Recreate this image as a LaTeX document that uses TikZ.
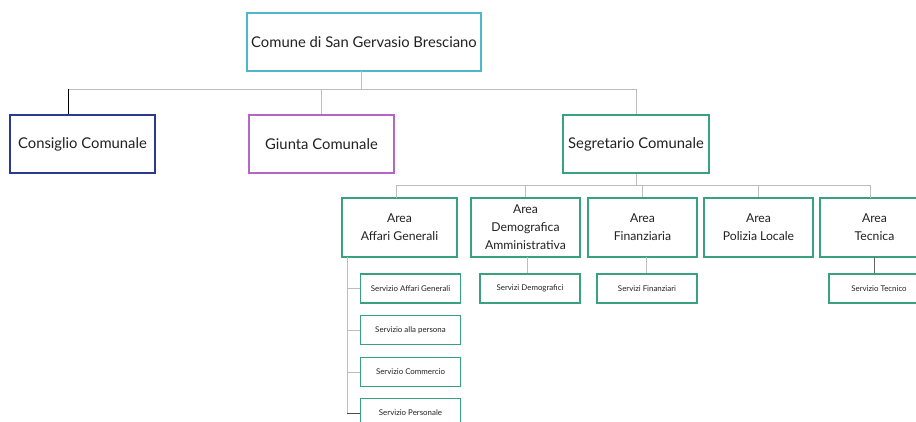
\documentclass[tikz,border=0pt]{standalone}
\usepackage{fontspec}
\setmainfont{Lato}
\definecolor{cTop}{HTML}{4DB8CC}
\definecolor{cBlue}{HTML}{2B3990}
\definecolor{cPurple}{HTML}{B565C6}
\definecolor{cGreen}{HTML}{3AA17E}
\definecolor{cLine}{HTML}{BDBDBD}
\definecolor{cText}{HTML}{222222}
\begin{document}
\begin{tikzpicture}[x=1pt,y=-1pt,
  box/.style={draw, line width=1.6pt, fill=white, inner sep=0pt, align=center, text=cText},
  big/.style={box, minimum height=58pt, font=\fontsize{14.8}{17}\selectfont},
  area/.style={box, draw=cGreen, minimum height=59pt, font=\fontsize{12.2}{18}\selectfont},
  serv/.style={box, draw=cGreen, minimum height=29pt, minimum width=100pt, font=\fontsize{7.9}{9}\selectfont},
  conn/.style={draw=cLine, line width=0.9pt}]
\clip (0,0) rectangle (916,421);
\fill[white] (0,0) rectangle (916,421);
% level 0 and 1
\node[big, draw=cTop, minimum width=234pt] (top) at (364,42) {Comune di San Gervasio Bresciano};
\node[big, draw=cBlue, minimum width=145pt] (cons) at (82.5,144) {Consiglio Comunale};
\node[big, draw=cPurple, minimum width=145pt] (giunta) at (321.5,144) {Giunta Comunale};
\node[big, draw=cGreen, minimum width=146pt] (seg) at (636,144) {Segretario Comunale};
% areas
\node[area, minimum width=115pt] (aff) at (399.5,227.5) {Area\\Affari Generali};
\node[area, minimum width=109pt] (dem) at (525.5,227.5) {Area\\Demografica\\Amministrativa};
\node[area, minimum width=109pt] (fin) at (642.5,227.5) {Area\\Finanziaria};
\node[area, minimum width=109pt] (pol) at (758.5,227.5) {Area\\Polizia Locale};
\node[area, minimum width=109pt] (tec) at (874.5,227.5) {Area\\Tecnica};
% services
\node[serv] (s1) at (410.5,288.5) {Servizio Affari Generali};
\node[serv] (s2) at (410.5,330) {Servizio alla persona};
\node[serv] (s3) at (410.5,372) {Servizio Commercio};
\node[serv] (s4) at (410.5,413) {Servizio Personale};
\node[serv] (sdem) at (530,288.5) {Servizi Demografici};
\node[serv] (sfin) at (647,288.5) {Servizi Finanziari};
\node[serv] (stec) at (879,288.5) {Servizio Tecnico};
% connectors level 1
\coordinate (busL) at (68,89);
\coordinate (busR) at (636,89);
\coordinate (topc) at (361,71);
\draw[conn] (busL) -- (busR);
\draw[conn] (topc) -- (topc |- busL);
\draw[black, line width=0.9pt] (busL) -- (busL |- cons.north);
\draw[conn] (giunta.north) -- (giunta.north |- busL);
\draw[conn] (seg.north) -- (seg.north |- busL);
% connectors level 2
\coordinate (bus2L) at (396,185);
\coordinate (bus2R) at (870,185);
\coordinate (affc) at (396,198);
\coordinate (tecc) at (870,198);
\draw[conn] (bus2L) -- (bus2R);
\draw[conn] (seg.south) -- (seg.south |- bus2L);
\draw[conn] (affc) -- (bus2L);
\draw[conn] (dem.north) -- (dem.north |- bus2L);
\draw[conn] (fin.north) -- (fin.north |- bus2L);
\draw[conn] (pol.north) -- (pol.north |- bus2L);
\draw[conn] (tecc) -- (bus2R);
% connectors level 3
\coordinate (spine) at (347,257);
\draw[conn] (spine) -- (spine |- s4.west);
\draw[conn] (spine |- s1.west) -- (s1.west);
\draw[conn] (spine |- s2.west) -- (s2.west);
\draw[conn] (spine |- s3.west) -- (s3.west);
\draw[draw=black!70, line width=0.9pt] (spine |- s4.west) -- (s4.west);
\coordinate (demc) at (527,257);
\draw[conn] (demc) -- (demc |- sdem.north);
\coordinate (finc) at (646,257);
\draw[conn] (finc) -- (finc |- sfin.north);
\coordinate (tecs) at (874,257);
\draw[draw=black!60, line width=0.9pt] (tecs) -- (tecs |- stec.north);
\end{tikzpicture}
\end{document}
